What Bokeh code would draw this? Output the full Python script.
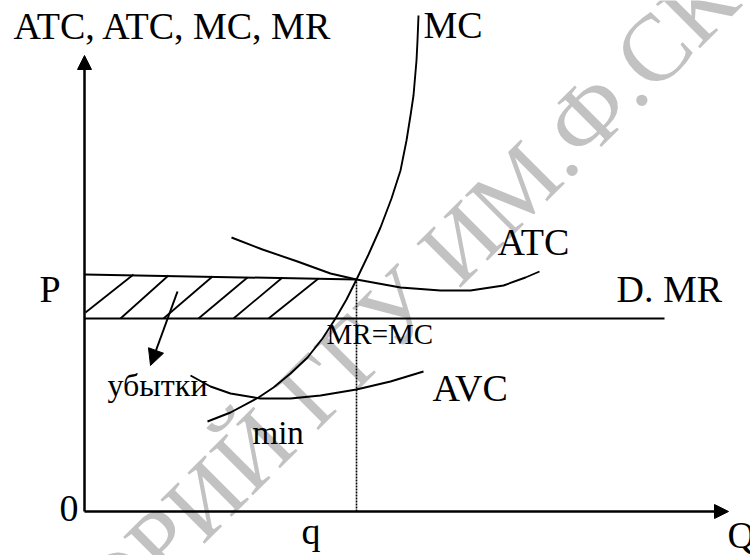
from bokeh.plotting import figure
from bokeh.models import Range1d, Arrow, NormalHead
from bokeh.core.properties import value
from bokeh.embed import file_html
from bokeh.resources import INLINE
import math

# ---- data (diagram units: origin at axes crossing) ----
mc_x = [12.3, 14.6, 17.4, 18.9, 20.6, 22.3, 23.8, 25.1, 26.2, 27.2, 28.4, 29.6, 30.7, 31.6, 32.2, 32.6, 32.9, 33.2, 33.3, 33.4]
mc_y = [9.0, 9.9, 11.4, 12.4, 13.8, 15.4, 17.3, 19.3, 21.2, 23.2, 25.7, 28.4, 31.3, 34.1, 37.1, 39.6, 41.6, 45.1, 47.1, 49.6]

atc_x = [14.7, 17.8, 21.3, 24.6, 27.2, 31.6, 35.6, 38.6, 41.9, 44.1, 45.5]
atc_y = [27.4, 26.2, 25.0, 23.8, 23.2, 22.4, 22.1, 22.1, 22.6, 23.4, 24.0]

avc_x = [10.6, 12.6, 14.6, 17.6, 20.6, 23.6, 27.2, 30.6, 33.9]
avc_y = [13.6, 12.5, 11.8, 11.3, 11.3, 11.6, 12.2, 13.0, 14.0]

mr_level = 19.3          # D = MR price line
mr_end = 58.0
atc_at_q = [23.7, 23.2]  # top edge of loss rectangle (left, right)
q_value = 27.2           # output where MR = MC

hatch_x0 = [0.1, 3.6, 7.9, 11.4, 14.9, 18.4]
hatch_y0 = [19.9, 19.3, 19.3, 19.3, 19.3, 19.3]
hatch_x1 = [4.9, 8.4, 12.8, 16.3, 19.8, 23.4]
hatch_y1 = [23.7, 23.6, 23.5, 23.4, 23.4, 23.3]

y_axis_top = 45.6
x_axis_end = 64.4

watermark_a = "РЕПОЗИТОРИЙ ГГУ ИМ"
watermark_b = ".Ф.СКОРИНЫ"

FONT = value("Liberation Serif")

p = figure(width=750, height=555,
           x_range=Range1d(-8.4, 66.6), y_range=Range1d(-4.4, 51.1),
           x_axis_type=None, y_axis_type=None,
           output_backend="svg", toolbar_location=None,
           min_border=0, min_border_left=0, min_border_right=0,
           min_border_top=0, min_border_bottom=0)
p.grid.visible = False
p.outline_line_color = None
p.background_fill_color = "white"
p.border_fill_color = "white"

# watermark
wm = 45 * math.pi / 180
for txt, al in ((watermark_a, "right"), (watermark_b, "left")):
    p.text(x=[45.95], y=[35.25], text=[txt], angle=wm, text_font=FONT,
           text_font_size="95px", text_color="#c2c2c2", text_align=al,
           text_baseline="alphabetic")

# axes with arrows
p.add_layout(Arrow(end=NormalHead(size=14, fill_color="black", line_color="black"),
                   x_start=0, y_start=0, x_end=0, y_end=y_axis_top,
                   line_width=2.5, line_color="black"))
p.add_layout(Arrow(end=NormalHead(size=14, fill_color="black", line_color="black"),
                   x_start=0, y_start=0, x_end=x_axis_end, y_end=0,
                   line_width=2.5, line_color="black"))

# hatch of losses
p.segment(x0=hatch_x0, y0=hatch_y0, x1=hatch_x1, y1=hatch_y1,
          line_color="black", line_width=1.8)
# top edge of rectangle
p.line(x=[0, q_value], y=atc_at_q, line_color="black", line_width=2)
# MR line
p.line(x=[0, mr_end], y=[mr_level, mr_level], line_color="black", line_width=2)

# dotted q line
p.line(x=[q_value, q_value], y=[0, atc_at_q[1]], line_color="black",
       line_width=1.6, line_dash="2 1")

# curves
p.line(x=mc_x, y=mc_y, line_color="black", line_width=1.9)
p.line(x=atc_x, y=atc_y, line_color="black", line_width=1.9)
p.line(x=avc_x, y=avc_y, line_color="black", line_width=1.9)

# arrow to "убытки"
p.add_layout(Arrow(end=NormalHead(size=16, fill_color="black", line_color="black"),
                   x_start=9.3, y_start=22.0, x_end=6.6, y_end=14.6,
                   line_width=2, line_color="black"))

def label(x, y, t, size=38):
    # compensate the renderer's baseline placement
    yy = y + 0.039 * size
    p.text(x=[x], y=[yy], text=[t], text_font=FONT, text_font_size=f"{size}px",
           text_color="black", text_align="left", text_baseline="alphabetic")

label(-7.1, 47.1, "ATC, ATC, MC, MR")
label(33.9, 47.2, "MC")
label(-4.5, 20.8, "P")
label(41.3, 25.5, "ATC")
label(53.2, 20.8, "D. MR")
label(24.2, 16.6, "MR=MC", 29)
label(34.8, 10.9, "AVC")
label(2.3, 11.4, "убытки", 32)
label(16.8, 6.6, "min", 33)
label(-2.5, -1.2, "0")
label(21.7, -3.4, "q")
label(64.3, -3.8, "Q")

open("out.html", "w").write(file_html(p, INLINE))
